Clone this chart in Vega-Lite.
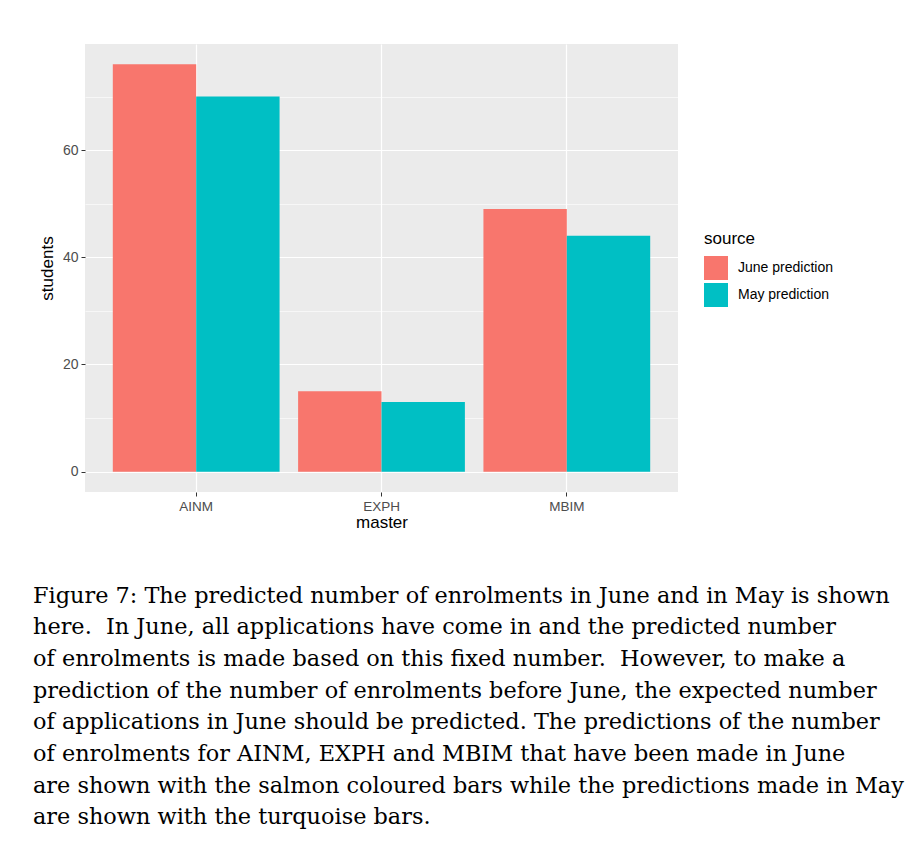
{
  "$schema": "https://vega.github.io/schema/vega-lite/v6.json",
  "width": 593,
  "height": 448,
  "autosize": {"type": "none"},
  "padding": {"left": 85, "top": 44, "right": 234, "bottom": 356},
  "background": "white",
  "data": {
    "values": [
      {"master": "AINM", "source": "June prediction", "students": 76},
      {"master": "AINM", "source": "May prediction", "students": 70},
      {"master": "EXPH", "source": "June prediction", "students": 15},
      {"master": "EXPH", "source": "May prediction", "students": 13},
      {"master": "MBIM", "source": "June prediction", "students": 49},
      {"master": "MBIM", "source": "May prediction", "students": 44}
    ]
  },
  "title": {
    "text": [
      "Figure 7: The predicted number of enrolments in June and in May is shown",
      "here.\u00a0 In June, all applications have come in and the predicted number",
      "of enrolments is made based on this fixed number.\u00a0 However, to make a",
      "prediction of the number of enrolments before June, the expected number",
      "of applications in June should be predicted. The predictions of the number",
      "of enrolments for AINM, EXPH and MBIM that have been made in June",
      "are shown with the salmon coloured bars while the predictions made in May",
      "are shown with the turquoise bars."
    ],
    "orient": "bottom",
    "anchor": "start",
    "frame": "group",
    "dx": -52,
    "offset": 54,
    "font": "DejaVu Serif",
    "fontSize": 22.4,
    "fontWeight": "normal",
    "color": "black",
    "lineHeight": 31.7,
    "baseline": "top"
  },
  "mark": {"type": "bar"},
  "encoding": {
    "x": {
      "field": "master",
      "type": "nominal",
      "scale": {"paddingInner": 0.1, "paddingOuter": 0.15},
      "axis": {
        "title": "master",
        "labelAngle": 0,
        "grid": true,
        "bandPosition": 0.5,
        "gridColor": "white",
        "gridWidth": 1.2,
        "domain": false,
        "tickColor": "#333333",
        "tickSize": 4,
        "tickWidth": 1,
        "labelPadding": 3,
        "labelFont": "Liberation Sans",
        "labelFontSize": 13.5,
        "labelColor": "#4D4D4D",
        "titleFont": "Liberation Sans",
        "titleFontSize": 17,
        "titleFontWeight": "normal",
        "titleColor": "black",
        "titlePadding": 2
      }
    },
    "xOffset": {
      "field": "source",
      "type": "nominal",
      "scale": {"paddingInner": 0, "paddingOuter": 0}
    },
    "y": {
      "field": "students",
      "type": "quantitative",
      "scale": {"domain": [-3.8, 79.8], "nice": false, "zero": false},
      "axis": {
        "title": "students",
        "values": [0, 10, 20, 30, 40, 50, 60, 70],
        "labelExpr": "datum.value % 20 === 0 ? datum.label : ''",
        "tickOpacity": {"condition": {"test": "datum.value % 20 === 0", "value": 1}, "value": 0},
        "gridWidth": {"condition": {"test": "datum.value % 20 === 0", "value": 1.2}, "value": 0.6},
        "grid": true,
        "gridColor": "white",
        "domain": false,
        "tickColor": "#333333",
        "tickSize": 4,
        "tickWidth": 1,
        "labelPadding": 3,
        "labelFont": "Liberation Sans",
        "labelFontSize": 14,
        "labelColor": "#4D4D4D",
        "titleFont": "Liberation Sans",
        "titleFontSize": 17,
        "titleFontWeight": "normal",
        "titleColor": "black",
        "titlePadding": 6
      }
    },
    "color": {
      "field": "source",
      "type": "nominal",
      "scale": {"domain": ["June prediction", "May prediction"], "range": ["#F8766D", "#00BFC4"]},
      "legend": {
        "title": "source",
        "orient": "none",
        "legendX": 619,
        "legendY": 187,
        "symbolType": "square",
        "symbolSize": 576,
        "symbolStrokeWidth": 0,
        "symbolOpacity": 1,
        "rowPadding": 3,
        "labelOffset": 10,
        "titlePadding": 8,
        "titleFont": "Liberation Sans",
        "titleFontSize": 17,
        "titleFontWeight": "normal",
        "titleColor": "black",
        "labelFont": "Liberation Sans",
        "labelFontSize": 14,
        "labelColor": "black"
      }
    }
  },
  "config": {
    "view": {"fill": "#EBEBEB", "stroke": null}
  }
}
